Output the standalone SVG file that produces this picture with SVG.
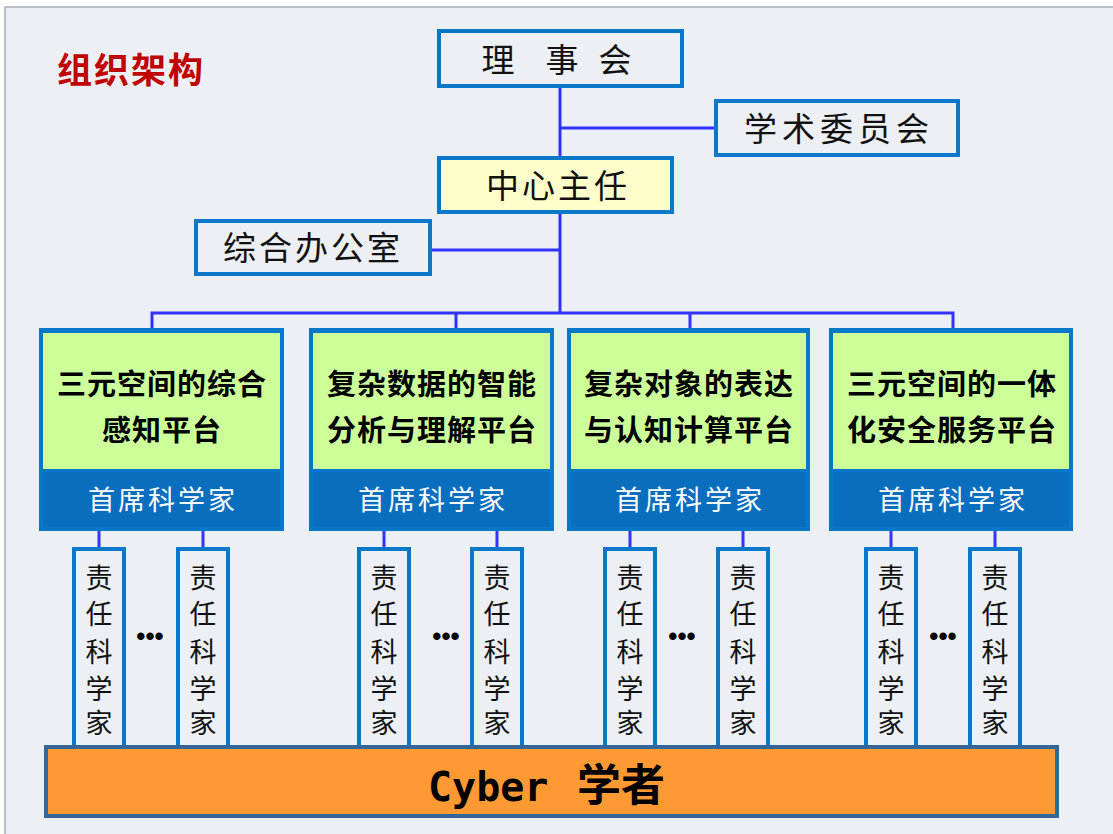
<svg xmlns="http://www.w3.org/2000/svg" width="1113" height="834" viewBox="0 0 1113 834">
<style>
.box{fill:#ECEFF3;stroke:#0A78C8;stroke-width:4}
.conn{stroke:#3333FF;stroke-width:3;fill:none}
.kt{font-family:"Noto Sans CJK SC",sans-serif;font-size:33px;fill:#111;text-anchor:middle}
.pt{font-family:"Noto Sans CJK SC",sans-serif;font-size:29px;font-weight:bold;fill:#000;text-anchor:middle;letter-spacing:1px}
.ws{font-family:"Noto Sans CJK SC",sans-serif;font-size:27px;fill:#fff;text-anchor:middle;letter-spacing:3px}
.vt{font-family:"Noto Sans CJK SC",sans-serif;font-size:27px;fill:#111;text-anchor:middle}
.green{fill:#CCFF99}
.band{fill:#0A6EBE}
.outer{fill:#0A78C8}
.dots{font-family:"Liberation Sans",sans-serif;font-size:26px;font-weight:bold;fill:#000;text-anchor:middle}
</style>
<rect x="0" y="0" width="1113" height="834" fill="#fff"/>
<rect x="5" y="7" width="1110" height="830" fill="#ECEFF3" stroke="#A8AFB8" stroke-width="1.5"/>
<text x="57" y="83" font-family="Noto Sans CJK SC,sans-serif" font-size="35" font-weight="bold" fill="#C00000" letter-spacing="2">组织架构</text>
<g id="connectors">
<path class="conn" d="M560 86V313"/>
<path class="conn" d="M560 128H716"/>
<path class="conn" d="M430 250H560"/>
<path class="conn" d="M152 328V313H953V328"/>
<path class="conn" d="M456 313V328M690 313V328"/>
<path class="conn" d="M99 530V547M203 530V547M384 530V547M497 530V547M630 530V547M743 530V547M891 530V547M995 530V547"/>
</g>
<g id="lishihui"><rect class="box" x="439" y="31" width="243" height="55"/><text class="kt" y="72" font-size="34"><tspan x="498">理</tspan><tspan x="562">事</tspan><tspan x="615">会</tspan></text></g>
<g id="xueshu"><rect class="box" x="716" y="101" width="242" height="54"/><text class="kt" x="839" y="141" letter-spacing="5">学术委员会</text></g>
<g id="zhuren"><rect class="box" x="439" y="158" width="233" height="54" style="fill:#FFFFCC"/><text class="kt" x="558" y="198" letter-spacing="3">中心主任</text></g>
<g id="bangong"><rect class="box" x="196" y="221" width="234" height="53"/><text class="kt" x="313" y="260" letter-spacing="3">综合办公室</text></g>
<g id="p1"><rect class="outer" x="39" y="328" width="245" height="203"/><rect class="green" x="43" y="333" width="237" height="136"/><rect class="band" x="43" y="472" width="237" height="55"/>
<text class="pt" x="162" y="395">三元空间的综合</text><text class="pt" x="162" y="441">感知平台</text><text class="ws" x="163" y="510">首席科学家</text></g>
<g id="p2"><rect class="outer" x="309" y="328" width="245" height="203"/><rect class="green" x="313" y="333" width="237" height="136"/><rect class="band" x="313" y="472" width="237" height="55"/>
<text class="pt" x="432" y="395">复杂数据的智能</text><text class="pt" x="432" y="441">分析与理解平台</text><text class="ws" x="433" y="510">首席科学家</text></g>
<g id="p3"><rect class="outer" x="567" y="328" width="243" height="203"/><rect class="green" x="571" y="333" width="235" height="136"/><rect class="band" x="571" y="472" width="235" height="55"/>
<text class="pt" x="689" y="395">复杂对象的表达</text><text class="pt" x="689" y="441">与认知计算平台</text><text class="ws" x="690" y="510">首席科学家</text></g>
<g id="p4"><rect class="outer" x="829" y="328" width="244" height="203"/><rect class="green" x="833" y="333" width="236" height="136"/><rect class="band" x="833" y="472" width="236" height="55"/>
<text class="pt" x="952" y="395">三元空间的一体</text><text class="pt" x="952" y="441">化安全服务平台</text><text class="ws" x="953" y="510">首席科学家</text></g>
<defs>
<g id="zr">
<rect class="box" x="-25" y="0" width="50" height="198"/>
<text class="vt" x="0" y="39">责</text><text class="vt" x="0" y="75">任</text><text class="vt" x="0" y="113">科</text><text class="vt" x="0" y="150">学</text><text class="vt" x="0" y="184">家</text>
</g>
</defs>
<g id="s1a"><use href="#zr" x="99" y="549"/></g>
<g id="s1b"><use href="#zr" x="203" y="549"/></g>
<g id="s2a"><use href="#zr" x="384" y="549"/></g>
<g id="s2b"><use href="#zr" x="497" y="549"/></g>
<g id="s3a"><use href="#zr" x="630" y="549"/></g>
<g id="s3b"><use href="#zr" x="743" y="549"/></g>
<g id="s4a"><use href="#zr" x="891" y="549"/></g>
<g id="s4b"><use href="#zr" x="995" y="549"/></g>
<text class="dots" x="150" y="645">•••</text>
<text class="dots" x="446" y="645">•••</text>
<text class="dots" x="682" y="645">•••</text>
<text class="dots" x="943" y="645">•••</text>
<g id="cyber"><rect x="46" y="747" width="1011" height="69" fill="#FF9933" stroke="#336699" stroke-width="4"/>
<text y="801" font-weight="bold" fill="#000"><tspan x="428" font-size="40" font-family="DejaVu Sans Mono,monospace">Cyber</tspan><tspan x="577" font-size="44" font-family="Noto Sans CJK SC,sans-serif">学者</tspan></text></g>
</svg>
